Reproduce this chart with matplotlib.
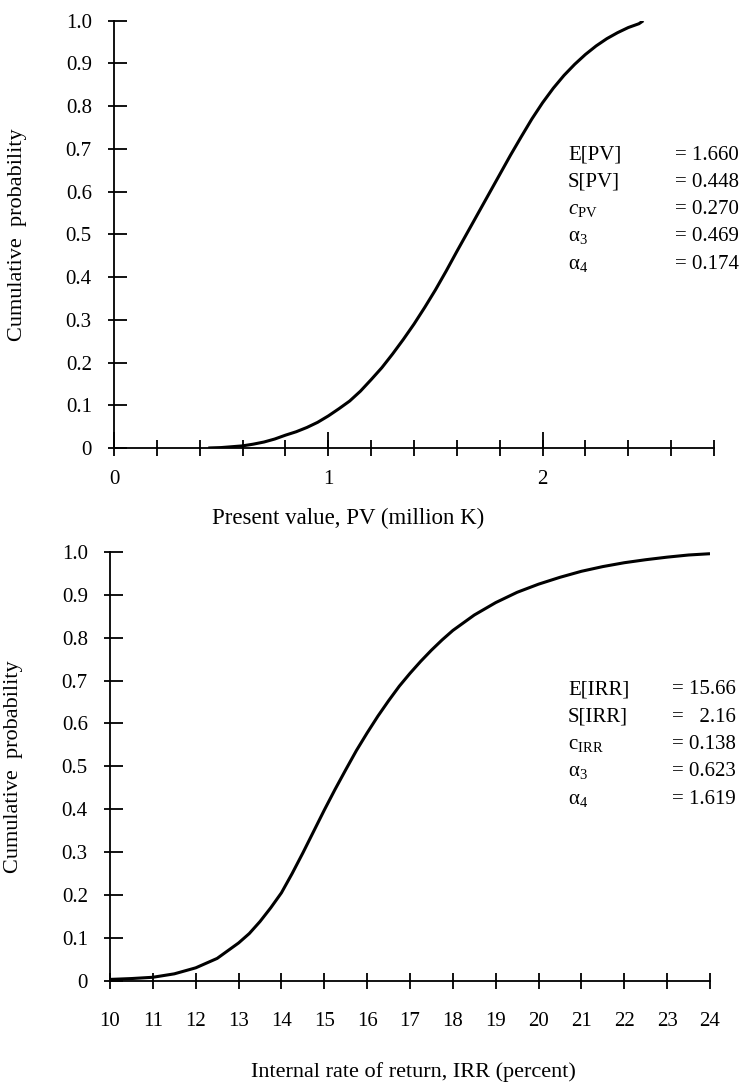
import numpy as np
import matplotlib
matplotlib.use("Agg")
import matplotlib.pyplot as plt
from matplotlib.ticker import MultipleLocator, FixedLocator, FuncFormatter

plt.rcParams['font.family'] = ['Liberation Serif', 'DejaVu Serif']
plt.rcParams['mathtext.fontset'] = 'custom'
plt.rcParams['mathtext.rm'] = 'Liberation Serif'
plt.rcParams['mathtext.it'] = 'Liberation Serif:italic'

# cumulative distribution of present value (million K)
pv_x = [0.44, 0.5, 0.55, 0.6, 0.65, 0.7, 0.75, 0.8, 0.85, 0.9, 0.95, 1.0,
        1.05, 1.1, 1.15, 1.2, 1.25, 1.3, 1.35, 1.4, 1.45, 1.5, 1.55, 1.6,
        1.65, 1.7, 1.75, 1.8, 1.85, 1.9, 1.95, 2.0, 2.05, 2.1, 2.15, 2.2,
        2.25, 2.3, 2.35, 2.4, 2.45, 2.47]
pv_y = [0.0, 0.001, 0.003, 0.005, 0.009, 0.014, 0.021, 0.03, 0.038, 0.048,
        0.06, 0.075, 0.092, 0.11, 0.133, 0.16, 0.188, 0.22, 0.254, 0.29,
        0.329, 0.37, 0.414, 0.46, 0.505, 0.55, 0.595, 0.64, 0.685, 0.728,
        0.77, 0.808, 0.842, 0.872, 0.898, 0.921, 0.941, 0.958, 0.972, 0.984,
        0.993, 1.0]

# cumulative distribution of IRR (percent)
irr_x = [10, 10.5, 11, 11.5, 12, 12.5, 13, 13.25, 13.5, 13.75, 14, 14.25,
         14.5, 14.75, 15, 15.25, 15.5, 15.75, 16, 16.25, 16.5, 16.75, 17,
         17.25, 17.5, 17.75, 18, 18.5, 19, 19.5, 20, 20.5, 21, 21.5, 22,
         22.5, 23, 23.5, 24]
irr_y = [0.003, 0.005, 0.008, 0.016, 0.03, 0.052, 0.088, 0.11, 0.138, 0.17,
         0.205, 0.25, 0.298, 0.348, 0.398, 0.446, 0.492, 0.537, 0.578, 0.617,
         0.653, 0.687, 0.717, 0.745, 0.771, 0.795, 0.817, 0.853, 0.882,
         0.906, 0.925, 0.941, 0.955, 0.966, 0.975, 0.982, 0.988, 0.993, 0.996]

pv_names = ['E[PV]', 'S[PV]', r'$c_{\mathrm{PV}}$', 'α$_{3}$', 'α$_{4}$']
pv_vals = ['= 1.660', '= 0.448', '= 0.270', '= 0.469', '= 0.174']
irr_names = ['E[IRR]', 'S[IRR]', r'$\mathrm{c}_{\mathrm{IRR}}$', 'α$_{3}$', 'α$_{4}$']
irr_vals = ['= 15.66', '=   2.16', '= 0.138', '= 0.623', '= 1.619']

W, H = 751, 1088
fig = plt.figure(figsize=(W / 100, H / 100), dpi=100)

FS = 15


def ylab(v, pos):
    return '0' if v == 0 else '%.1f' % v


def setup(ax):
    for s in ['top', 'right']:
        ax.spines[s].set_visible(False)
    for s in ['left', 'bottom']:
        ax.spines[s].set_linewidth(1.3)
    ax.set_ylim(0, 1.0)
    yt = np.round(np.arange(0, 1.01, 0.1), 1)
    ax.yaxis.set_major_locator(FixedLocator(yt))
    ax.yaxis.set_minor_locator(FixedLocator(yt))
    ax.yaxis.remove_overlapping_locs = False
    ax.yaxis.set_major_formatter(FuncFormatter(ylab))
    ax.tick_params(axis='y', which='major', direction='in', length=9.5,
                   width=1.3, pad=16, labelsize=FS)
    ax.tick_params(axis='y', which='minor', direction='out', length=4.5,
                   width=1.3)
    ax.set_ylabel('Cumulative  probability', fontsize=16)
    ax.yaxis.set_label_coords(-0.145, 0.5)


# top panel
ax1 = fig.add_axes([114 / W, 1 - 448 / H, 600 / W, 427.3 / H])
ax1.plot(pv_x, pv_y, color='black', lw=2.2, solid_capstyle='butt')
ax1.set_xlim(0, 2.8)
setup(ax1)
ax1.xaxis.set_major_locator(FixedLocator([0, 1, 2]))
ax1.xaxis.set_minor_locator(MultipleLocator(0.2))
ax1.xaxis.remove_overlapping_locs = False
ax1.xaxis.set_major_formatter(FuncFormatter(lambda v, p: '%d' % v))
ax1.tick_params(axis='x', which='major', direction='in', length=11.5,
                width=1.3, pad=16, labelsize=FS)
ax1.tick_params(axis='x', which='minor', direction='inout', length=11,
                width=1.3)
ax1.set_xlabel('Present value, PV (million K)', fontsize=16.5)
ax1.xaxis.set_label_coords(0.39, -0.14)
for i, (n, v) in enumerate(zip(pv_names, pv_vals)):
    fig.text(568 / W, 1 - (155 + 27.3 * i) / H, n, fontsize=FS, va='center')
    fig.text(675 / W, 1 - (155 + 27.3 * i) / H, v, fontsize=FS, va='center')

# bottom panel
ax2 = fig.add_axes([110 / W, 1 - 980.7 / H, 600 / W, 428.7 / H])
ax2.plot(irr_x, irr_y, color='black', lw=2.2, solid_capstyle='butt')
ax2.set_xlim(10, 24)
setup(ax2)
ax2.xaxis.set_major_locator(MultipleLocator(1))
ax2.tick_params(axis='x', which='major', direction='inout', length=11,
                width=1.3, pad=17, labelsize=FS)
ax2.set_xlabel('Internal rate of return, IRR (percent)', fontsize=16)
ax2.xaxis.set_label_coords(0.505, -0.189)
for i, (n, v) in enumerate(zip(irr_names, irr_vals)):
    fig.text(568 / W, 1 - (690 + 27.3 * i) / H, n, fontsize=FS, va='center')
    fig.text(672 / W, 1 - (690 + 27.3 * i) / H, v, fontsize=FS, va='center')

fig.savefig('out.png', dpi=100)
